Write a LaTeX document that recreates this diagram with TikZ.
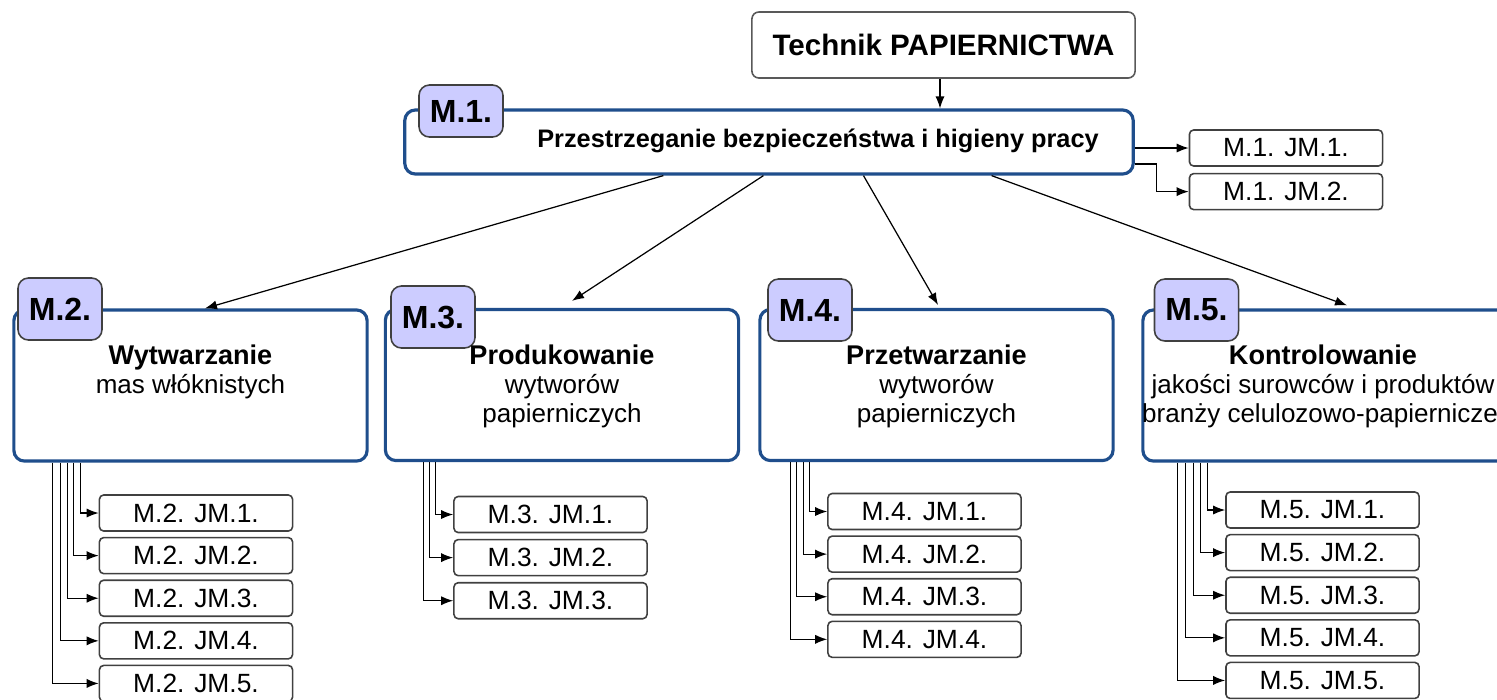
\documentclass[tikz,border=0pt]{standalone}
\usepackage{fontspec}
\setmainfont{Liberation Sans}
\usetikzlibrary{arrows.meta,positioning}
\definecolor{frameblue}{HTML}{1F4E8C}
\definecolor{tablilac}{HTML}{CCCCFF}

\tikzset{
  module/.style={draw=frameblue,line width=0.9pt,rounded corners=3pt,fill=white,
    minimum width=3.53cm,minimum height=1.51cm,inner sep=0pt},
  tab/.style={draw=black!75,fill=tablilac,rounded corners=3pt,line width=0.45pt,
    minimum width=0.84cm,minimum height=0.62cm,inner sep=0pt,
    font=\fontsize{9.1}{10}\selectfont\bfseries},
  modtext/.style={align=center,inner sep=0pt,font=\fontsize{7.4}{8.25}\selectfont},
  jm/.style={draw=black!75,rounded corners=1.2pt,line width=0.45pt,
    minimum width=1.93cm,minimum height=0.36cm,inner sep=0pt,
    font=\fontsize{7.5}{8}\selectfont},
  link/.style={-{Latex[length=3.4pt,width=2.6pt]},line width=0.35pt},
}
\newcommand{\modhead}[1]{{\fontsize{7.7}{8.25}\selectfont\bfseries #1}}

\begin{document}
\begin{tikzpicture}[x=0.01cm,y=-0.01cm]
  \useasboundingbox (0,0) rectangle (1497,699);

  % top and M.1
  \node[draw=black!65,rounded corners=2pt,line width=0.45pt,minimum width=3.83cm,
    minimum height=0.66cm,font=\fontsize{8.4}{10}\selectfont\bfseries] (top) at (943.5,45) {Technik PAPIERNICTWA};
  \node[module,minimum width=7.28cm,minimum height=0.64cm] (M1) at (769,142) {};
  \node[tab,minimum height=0.52cm] (T1) at (461,111) {M.1.};
  \node[inner sep=0pt,font=\fontsize{7.2}{9}\selectfont\bfseries] (M1text) at (818,141) {Przestrzeganie bezpieczeństwa i higieny pracy};

  \node[jm] (M1jm1) at (1286,148) {M.1. JM.1.};
  \node[jm,below=0.06cm of M1jm1] (M1jm2) {M.1. JM.2.};

  % modules
  \node[module] (M2) at (190.5,385.5) {};
  \node[module] (M3) at (562,385) {};
  \node[module] (M4) at (936.5,385) {};
  \node[module,minimum width=3.8cm] (M5) at (1333,385.5) {};

  \node[tab] (T2) at (60,309) {M.2.};
  \node[tab] (T3) at (433,317) {M.3.};
  \node[tab] (T4) at (810,310) {M.4.};
  \node[tab] (T5) at (1196.5,310) {M.5.};

  \node[modtext,below=0.36cm of M2.north] (M2text) {\modhead{Wytwarzanie}\\mas włóknistych};
  \node[modtext,below=0.36cm of M3.north] (M3text) {\modhead{Produkowanie}\\wytworów\\papierniczych};
  \node[modtext,below=0.36cm of M4.north] (M4text) {\modhead{Przetwarzanie}\\wytworów\\papierniczych};
  \node[modtext,below=0.36cm of M5.north,xshift=-0.1cm] (M5text) {\modhead{Kontrolowanie}\\jakości surowców i produktów\\branży celulozowo-papierniczej};

  % unit boxes
  \node[jm] (M2jm1) at (196,513) {M.2. JM.1.};
  \foreach \i [count=\p from 1] in {2,...,5}
    \node[jm,below=0.05cm of M2jm\p] (M2jm\i) {M.2. JM.\i.};
  \node[jm] (M3jm1) at (550.5,514.5) {M.3. JM.1.};
  \foreach \i [count=\p from 1] in {2,3}
    \node[jm,below=0.055cm of M3jm\p] (M3jm\i) {M.3. JM.\i.};
  \node[jm] (M4jm1) at (924.5,511.5) {M.4. JM.1.};
  \foreach \i [count=\p from 1] in {2,...,4}
    \node[jm,below=0.05cm of M4jm\p] (M4jm\i) {M.4. JM.\i.};
  \node[jm] (M5jm1) at (1322.5,510) {M.5. JM.1.};
  \foreach \i [count=\p from 1] in {2,...,5}
    \node[jm,below=0.05cm of M5jm\p] (M5jm\i) {M.5. JM.\i.};

  % arrows
  \draw[link] ([xshift=-0.035cm]top.south) -- ([xshift=-0.035cm]top.south |- M1.north);
  \draw[link] (M1jm1.west -| M1.east) -- (M1jm1.west);
  \draw[link] ([yshift=-0.22cm]M1.east) -- ++(22,0) |- (M1jm2.west);

  \draw[link] ([xshift=2.6cm]M1.south west) -- ([xshift=0.145cm]M2.north);
  \draw[link] ([xshift=3.6cm]M1.south west) -- ([xshift=0.1cm,yshift=0.07cm]M3.north);
  \draw[link] ([xshift=4.6cm]M1.south west) -- ([xshift=0.015cm,yshift=0.03cm]M4.north);
  \draw[link] ([xshift=5.88cm]M1.south west) -- ([xshift=0.14cm,yshift=0.03cm]M5.north);

  \foreach \i/\d in {1/0.68,2/0.61,3/0.55,4/0.48,5/0.40}
    \draw[link] ([xshift=\d cm]M2.south west) |- (M2jm\i.west);
  \foreach \i/\d in {1/0.52,2/0.46,3/0.40}
    \draw[link] ([xshift=\d cm]M3.south west) |- (M3jm\i.west);
  \foreach \i/\d in {1/0.51,2/0.45,3/0.38,4/0.32}
    \draw[link] ([xshift=\d cm]M4.south west) |- (M4jm\i.west);
  \foreach \i/\d in {1/0.66,2/0.59,3/0.52,4/0.44,5/0.36}
    \draw[link] ([xshift=\d cm]M5.south west) |- (M5jm\i.west);
\end{tikzpicture}
\end{document}
